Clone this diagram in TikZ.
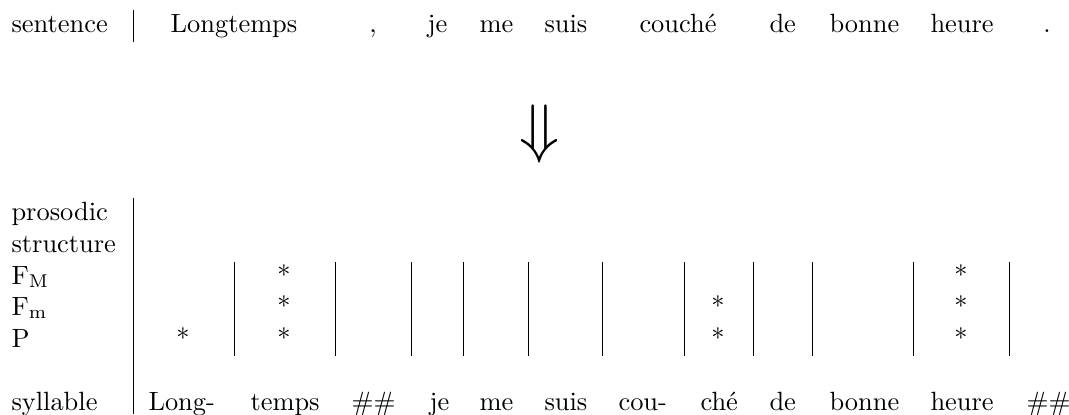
\documentclass[tikz,border=0pt]{standalone}
\usepackage{tikz}

\begin{document}
\begin{tikzpicture}[x=0.3788pt,y=-0.3788pt]
			\tikzstyle{rowname} = [anchor=base west,inner sep=0pt]
			\tikzstyle{word} = [anchor=base west,inner sep=0pt]
			\tikzstyle{cword} = [anchor=base,inner sep=0pt]
			\tikzstyle{star} = [anchor=base,inner sep=0pt]
			\tikzstyle{bar} = [line width=0.3pt]
			
			\useasboundingbox (0,0) rectangle (1069,414);
			
			% input sentence
			\node[rowname] (sent) at (11,32) {sentence};
			\node[cword] (w1) at (234,32) {Longtemps};
			\node[cword] (w2) at (373,32) {,};
			\node[word] (w3) at (427,32) {je};
			\node[word] (w4) at (479,32) {me};
			\node[word] (w5) at (544,32) {suis};
			\node[cword] (w6) at (678,32) {couché};
			\node[word] (w7) at (769,32) {de};
			\node[word] (w8) at (829,32) {bonne};
			\node[word] (w9) at (930,32) {heure};
			\node[cword] (w10) at (1047,32) {.};
			\draw[bar] (133,10) -- (133,42);
			
			\node[inner sep=0pt] (arrow) at (540,134) {\Huge$\Downarrow$};
			
			% prosodic structure
			\node[rowname] (pros) at (11,220) {prosodic};
			\node[rowname] (struc) at (11,252) {structure};
			\node[rowname] (fM) at (11,284) {F$_{\mathrm{M}}$};
			\node[rowname] (fm) at (11,315) {F$_{\mathrm{m}}$};
			\node[rowname] (p) at (11,347) {P};
			\node[rowname] (syl) at (11,410) {syllable};
			
			\draw[bar] (133,198) -- (133,414);
			\draw[bar] (234,262) -- (234,356) (335,262) -- (335,356)
				(411,262) -- (411,356) (463,262) -- (463,356)
				(528,262) -- (528,356) (602,262) -- (602,356)
				(684,262) -- (684,356) (753,262) -- (753,356)
				(812,262) -- (812,356) (913,262) -- (913,356)
				(1009,262) -- (1009,356);
			
			\node[star] (fM2) at (284,284) {*};
			\node[star] (fM11) at (961,284) {*};
			\node[star] (fm2) at (284,315) {*};
			\node[star] (fm8) at (718,315) {*};
			\node[star] (fm11) at (961,315) {*};
			\node[star] (p1) at (183,347) {*};
			\node[star] (p2) at (284,347) {*};
			\node[star] (p8) at (718,347) {*};
			\node[star] (p11) at (961,347) {*};
			
			\node[word] (s1) at (148,410) {Long-};
			\node[word] (s2) at (250,410) {temps};
			\node[word] (s3) at (351,410) {\#\#};
			\node[word] (s4) at (429,410) {je};
			\node[word] (s5) at (479,410) {me};
			\node[word] (s6) at (544,410) {suis};
			\node[word] (s7) at (618,410) {cou-};
			\node[word] (s8) at (700,410) {ché};
			\node[word] (s9) at (769,410) {de};
			\node[word] (s10) at (829,410) {bonne};
			\node[word] (s11) at (930,410) {heure};
			\node[word] (s12) at (1026,410) {\#\#};
		\end{tikzpicture}
\end{document}
